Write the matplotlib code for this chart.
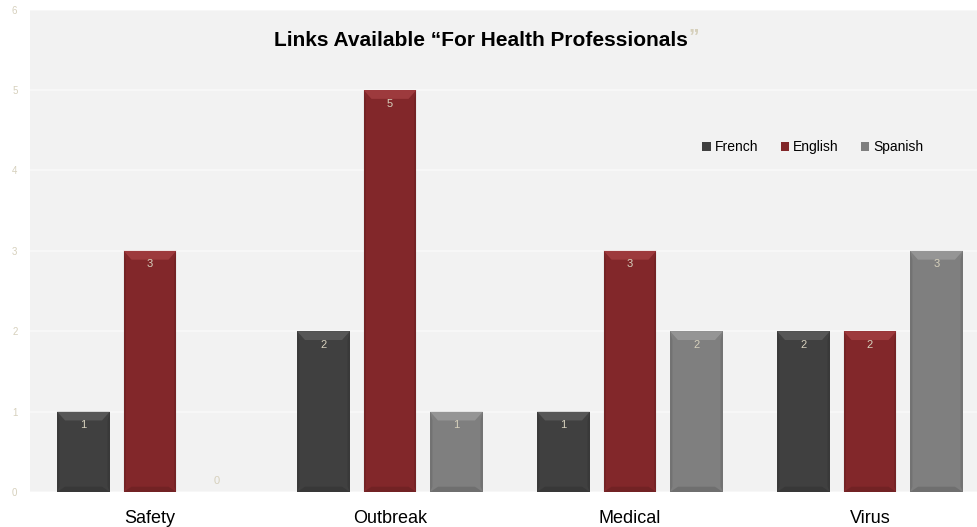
import matplotlib.pyplot as plt
from matplotlib.patches import Polygon
import numpy as np

plt.rcParams['font.family'] = ['Liberation Sans', 'DejaVu Sans']

# Data
categories = ["Safety", "Outbreak", "Medical", "Virus"]
series_names = ["French", "English", "Spanish"]
french = [1, 2, 1, 2]
english = [3, 5, 3, 2]
spanish = [0, 1, 2, 3]

colours = ["#404040", "#82272A", "#7F7F7F"]
tops = ["#6a6a6a", "#b54a4e", "#a8a8a8"]
beige = "#D6D0BC"

fig = plt.figure(figsize=(9.78, 5.27), dpi=100)
ax = fig.add_axes([30 / 978, 35 / 527, 948 / 978, (492 - 9.6) / 527])
ax.set_facecolor("#F2F2F2")

x = np.arange(len(categories))
width = 0.22
stride = 0.277

for k, (vals, col, top) in enumerate(zip([french, english, spanish], colours, tops)):
    bars = ax.bar(x + (k - 1) * stride, vals, width, color=col, label=series_names[k],
                  edgecolor="none", zorder=3)
    for b, v in zip(bars, vals):
        if v == 0:
            ax.text(b.get_x() + b.get_width() / 2, 0.14, "0", ha="center", va="center",
                    color=beige, fontsize=8, zorder=5)
            continue
        x0, x1 = b.get_x(), b.get_x() + b.get_width()
        h = b.get_height()
        dx = b.get_width() * 0.15
        dy = 0.11
        # bevel top
        ax.add_patch(Polygon([(x0, h), (x1, h), (x1 - dx, h - dy), (x0 + dx, h - dy)],
                             closed=True, facecolor=top, edgecolor="none", alpha=0.55, zorder=4))
        # bevel bottom
        ax.add_patch(Polygon([(x0, 0), (x1, 0), (x1 - dx, dy * 0.6), (x0 + dx, dy * 0.6)],
                             closed=True, facecolor="black", edgecolor="none", alpha=0.12, zorder=4))
        # side shading
        ax.add_patch(Polygon([(x0, 0), (x0 + dx * 0.3, dy * 0.6), (x0 + dx * 0.3, h - dy), (x0, h)],
                             closed=True, facecolor="black", edgecolor="none", alpha=0.10, zorder=4))
        ax.add_patch(Polygon([(x1, 0), (x1 - dx * 0.3, dy * 0.6), (x1 - dx * 0.3, h - dy), (x1, h)],
                             closed=True, facecolor="black", edgecolor="none", alpha=0.10, zorder=4))
        ax.text((x0 + x1) / 2, h - 0.17, str(v), ha="center", va="center",
                color=beige, fontsize=8, zorder=5)

ax.set_xlim(-0.5, 3.45)
ax.set_ylim(0, 6)
ax.set_yticks(range(0, 7))
ax.yaxis.grid(True, color="#F9F9F9", linewidth=1.2, zorder=0)
ax.set_axisbelow(True)
for s in ax.spines.values():
    s.set_visible(False)
ax.tick_params(axis="y", length=0, labelsize=7, labelcolor=beige, pad=9)
ax.tick_params(axis="x", length=0, labelsize=13, pad=13)
ax.set_xticks(x)
ax.set_xticklabels(categories)

# Title
t = ax.text(0.257, 0.936, "Links Available \u201cFor Health Professionals", transform=ax.transAxes,
            fontsize=15, fontweight="bold", ha="left", va="center", zorder=6)
fig.canvas.draw()
bb = t.get_window_extent()
fig.text(bb.x1 / fig.bbox.width + 0.001, bb.y0 / fig.bbox.height + 0.008, "\u201d",
         fontsize=15, fontweight="bold", color=beige, ha="left", va="bottom")

leg = ax.legend(loc="center", bbox_to_anchor=(0.826, 0.715), ncol=3, frameon=False,
                fontsize=10, handlelength=0.6, handleheight=0.6, handletextpad=0.3,
                columnspacing=1.6)

fig.savefig("out.png", dpi=100)
